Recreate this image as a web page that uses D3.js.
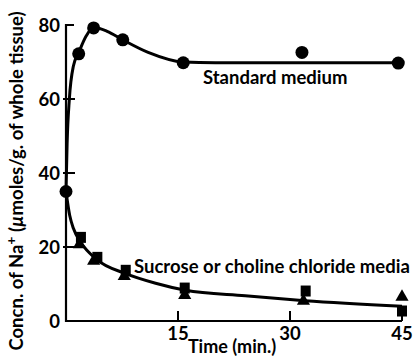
<!DOCTYPE html>
<html>
<head>
<meta charset="utf-8">
<script src="https://cdn.jsdelivr.net/npm/d3@7"></script>
<style>
  body { margin: 0; background: #fff; }
  text { font-family: Lato, "Open Sans", sans-serif; fill: #000; }
</style>
</head>
<body>
<svg id="sodio" width="417" height="358"></svg>
<script>
// tiempos (min) y concentraciones
var tiempoStd = [0, 1.7, 3.7, 7.6, 15.7, 31.6, 44.5];
var valorStd = [35, 72.2, 79.2, 76, 69.8, 72.6, 69.7];

var tiempoCuad = [2, 4.2, 8, 15.9, 32.1, 45];
var valorCuad = [22.6, 17.2, 13.7, 8.9, 8.1, 2.7];

var tiempoTri = [1.8, 3.7, 7.8, 15.9, 31.8, 45];
var valorTri = [20.7, 16.2, 12.1, 7.0, 5.4, 6.5];

// curvas ajustadas (trazadas a mano en el original)
var curvaStdT = [0, 0.15, 0.45, 1.0, 1.7, 2.7, 3.7, 5.5, 7.6, 11, 15.7, 20, 45];
var curvaStdV = [35, 48, 60, 69, 72.5, 77, 79.3, 78.3, 76, 72.6, 70, 69.8, 69.8];

var curvaSacT = [0, 0.5, 1, 2, 4, 8, 12, 16, 24, 32, 45];
var curvaSacV = [35, 28.5, 25, 21.2, 16.8, 12.8, 10.2, 8.3, 6.8, 5.5, 4];

var ticksX = [15, 30, 45];
var ticksY = [0, 20, 40, 60, 80];

function grafico(){

    var svg = d3.select('#sodio');

    var xScale = d3.scaleLinear().domain([0, 45]).range([66, 402]),
        yScale = d3.scaleLinear().domain([0, 80]).range([321, 25]);

    var g = svg.append("g");

    /* Ejes */
    g.append("path")
        .attr("d", "M" + (xScale(0) + 8) + "," + yScale(80) + "H" + xScale(0) + "V" + yScale(0) + "H" + xScale(45))
        .attr("fill", "none")
        .attr("stroke", "#000")
        .attr("stroke-width", 2.2);

    g.selectAll(".tick-y")
        .data(ticksY.filter(function(d){ return d > 0 && d < 80; }))
        .enter().append("line")
        .attr("x1", xScale(0) - 3)
        .attr("x2", xScale(0) + 9)
        .attr("y1", function(d){ return yScale(d); })
        .attr("y2", function(d){ return yScale(d); })
        .attr("stroke", "#000")
        .attr("stroke-width", 2);

    g.selectAll(".tick-x")
        .data(ticksX)
        .enter().append("line")
        .attr("x1", function(d){ return xScale(d); })
        .attr("x2", function(d){ return xScale(d); })
        .attr("y1", yScale(0))
        .attr("y2", yScale(0) - 10)
        .attr("stroke", "#000")
        .attr("stroke-width", 2);

    g.selectAll(".lab-y")
        .data(ticksY)
        .enter().append("text")
        .attr("x", 60)
        .attr("y", function(d){ return yScale(d) + 7; })
        .attr("text-anchor", "end")
        .attr("font-size", "18.5px")
        .attr("font-weight", "bold")
        .text(function(d){ return d; });

    g.selectAll(".lab-x")
        .data(ticksX)
        .enter().append("text")
        .attr("x", function(d){ return xScale(d); })
        .attr("y", 340)
        .attr("text-anchor", "middle")
        .attr("font-size", "18.5px")
        .attr("font-weight", "bold")
        .text(function(d){ return d; });

    svg.append("text")
        .attr("x", 232)
        .attr("y", 353)
        .attr("text-anchor", "middle")
        .attr("font-size", "18px")
        .attr("font-weight", "bold")
        .text("Time (min.)");

    var ylab = svg.append("text")
        .attr("transform", "translate(23,181) rotate(-90)")
        .attr("text-anchor", "middle")
        .attr("font-size", "18.5px")
        .attr("font-weight", "bold");
    ylab.append("tspan").text("Concn. of Na");
    ylab.append("tspan").attr("dy", -7).attr("font-size", "14px").text("+");
    ylab.append("tspan").attr("dy", 7).text(" (");
    ylab.append("tspan").attr("font-style", "italic").text("µ");
    ylab.append("tspan").text("moles/g. of whole tissue)");

    /* Curvas */
    var linea = d3.line()
        .x(function(d){ return xScale(d[0]); })
        .y(function(d){ return yScale(d[1]); })
        .curve(d3.curveMonotoneX);

    g.append("path")
        .datum(d3.zip(curvaStdT, curvaStdV))
        .attr("d", linea)
        .attr("fill", "none")
        .attr("stroke", "#000")
        .attr("stroke-width", 3);

    g.append("path")
        .datum(d3.zip(curvaSacT, curvaSacV))
        .attr("d", linea)
        .attr("fill", "none")
        .attr("stroke", "#000")
        .attr("stroke-width", 3);

    /* Puntos */
    g.selectAll(".circulo")
        .data(d3.zip(tiempoStd, valorStd))
        .enter().append("circle")
        .attr("cx", function(d){ return xScale(d[0]); })
        .attr("cy", function(d){ return yScale(d[1]); })
        .attr("r", 6.5)
        .attr("fill", "#000");

    g.selectAll(".cuadrado")
        .data(d3.zip(tiempoCuad, valorCuad))
        .enter().append("rect")
        .attr("x", function(d){ return xScale(d[0]) - 5; })
        .attr("y", function(d){ return yScale(d[1]) - 5.5; })
        .attr("width", 10)
        .attr("height", 11)
        .attr("fill", "#000");

    g.selectAll(".triangulo")
        .data(d3.zip(tiempoTri, valorTri))
        .enter().append("path")
        .attr("transform", function(d){ return "translate(" + xScale(d[0]) + "," + yScale(d[1]) + ")"; })
        .attr("d", d3.symbol().type(d3.symbolTriangle).size(75))
        .attr("fill", "#000");

    /* Rotulos */
    svg.append("text")
        .attr("x", 203)
        .attr("y", 84)
        .attr("font-size", "18.5px")
        .attr("font-weight", "bold")
        .text("Standard medium");

    svg.append("text")
        .attr("x", 134)
        .attr("y", 273)
        .attr("font-size", "18.5px")
        .attr("font-weight", "bold")
        .text("Sucrose or choline chloride media");
}

grafico();
</script>
</body>
</html>
